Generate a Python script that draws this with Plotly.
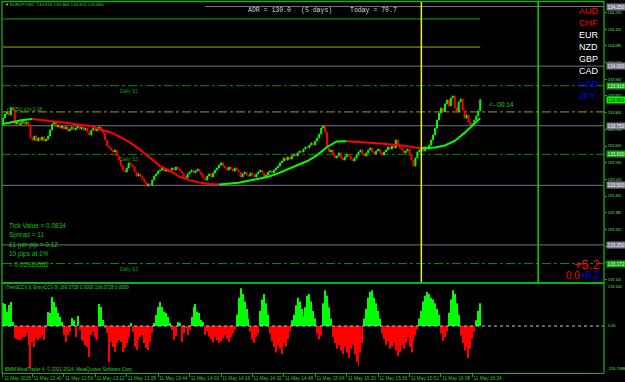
import plotly.graph_objects as go
import pandas as pd

# ---------------- data ----------------
first_bar = "2015-05-11 12:25"
first_open = 133.753
closes = [
    133.782, 133.799, 133.808, 133.795, 133.824, 133.816, 133.757, 133.766, 133.753, 133.761,
    133.770, 133.757, 133.766, 133.753, 133.699, 133.690, 133.707, 133.686, 133.699, 133.690,
    133.703, 133.686, 133.694, 133.707, 133.732, 133.757, 133.766, 133.745, 133.753, 133.740,
    133.749, 133.736, 133.745, 133.728, 133.736, 133.745, 133.732, 133.740, 133.749, 133.736,
    133.745, 133.732, 133.740, 133.724, 133.711, 133.732, 133.740, 133.728, 133.736, 133.745,
    133.732, 133.719, 133.690, 133.665, 133.657, 133.648, 133.640, 133.648, 133.623, 133.606,
    133.581, 133.564, 133.556, 133.573, 133.594, 133.585, 133.577, 133.556, 133.539, 133.548,
    133.539, 133.526, 133.514, 133.497, 133.506, 133.501, 133.522, 133.539, 133.548, 133.560,
    133.564, 133.573, 133.560, 133.568, 133.556, 133.564, 133.573, 133.564, 133.577, 133.568,
    133.560, 133.552, 133.539, 133.531, 133.548, 133.556, 133.564, 133.552, 133.560, 133.568,
    133.556, 133.543, 133.531, 133.522, 133.539, 133.548, 133.535, 133.552, 133.564, 133.573,
    133.585, 133.594, 133.581, 133.573, 133.564, 133.577, 133.568, 133.560, 133.573, 133.564,
    133.556, 133.535, 133.548, 133.556, 133.543, 133.539, 133.552, 133.543, 133.535, 133.548,
    133.556, 133.564, 133.552, 133.535, 133.543, 133.556, 133.560, 133.552, 133.564, 133.573,
    133.581, 133.594, 133.602, 133.615, 133.606, 133.619, 133.610, 133.623, 133.631, 133.623,
    133.636, 133.644, 133.640, 133.652, 133.661, 133.657, 133.669, 133.678, 133.669, 133.686,
    133.699, 133.715, 133.740, 133.749, 133.724, 133.657, 133.640, 133.648, 133.627, 133.615,
    133.623, 133.636, 133.615, 133.606, 133.619, 133.631, 133.623, 133.610, 133.602, 133.615,
    133.627, 133.640, 133.648, 133.631, 133.623, 133.636, 133.648, 133.657, 133.640, 133.631,
    133.644, 133.652, 133.636, 133.627, 133.640, 133.648, 133.661, 133.652, 133.665, 133.657,
    133.690, 133.669, 133.657, 133.648, 133.636, 133.644, 133.652, 133.627, 133.606, 133.581,
    133.615, 133.640, 133.648, 133.657, 133.644, 133.661, 133.652, 133.669, 133.690, 133.711,
    133.740, 133.774, 133.803, 133.824, 133.808, 133.841, 133.858, 133.833, 133.866, 133.875,
    133.824, 133.808, 133.850, 133.862, 133.816, 133.782, 133.795, 133.766, 133.749, 133.757,
    133.774, 133.791, 133.812, 133.860,
]

# moving average readings (bar index, value)
ma_idx = [0, 5, 10, 15, 20, 25, 30, 35, 40, 45, 50, 55, 60, 65, 70, 75, 80, 85, 90, 95,
          100, 105, 110, 115, 120, 125, 130, 135, 140, 145, 150, 155, 160, 165, 170, 175,
          180, 185, 190, 195, 200, 205, 210, 213, 216, 220, 225, 230, 235, 240, 243]
ma_vals = [133.757, 133.766, 133.774, 133.778, 133.774, 133.768, 133.764, 133.759, 133.753, 133.749,
           133.732, 133.722, 133.701, 133.678, 133.648, 133.615, 133.581, 133.561, 133.536, 133.522,
           133.512, 133.506, 133.504, 133.506, 133.511, 133.519, 133.527, 133.536, 133.550, 133.567,
           133.583, 133.602, 133.627, 133.661, 133.684, 133.685,
           133.683, 133.680, 133.677, 133.673, 133.670, 133.665, 133.659, 133.656, 133.657, 133.659,
           133.667, 133.686, 133.720, 133.761, 133.782]

# CCI histogram (lower window)
cci = [
    122, 117, 74, 111, 127, 21,
    -64, -70, -74, -72, -60, -58,
    -37, -100, -222, -85, -111, -64, -74, -64, -48, -74,
    -10,
    74, 69, 154, 127, 101, 69, 48, 21,
    -48, -85, -48, -32,
    42, 30, -58, 53,
    -20,
    -74, -85, -100, -111, -164, -48, -32, -58, -74,
    117, 101, 32,
    -11, -37, -191, -85, -111, -138, -90, -74, -85, -138, -117, -90, -58, 16,
    -32, -111, -127, -74, -58, -48, -90, -117, -127, -85, -37,
    16, 58, 101, 127, 101, 74, 69, 48, 16,
    -21, -74, -53, 21, 16, -85, -40, -11, -48,
    -20, 48, 101, 117, 74, 69, 32, 21, -48,
    -30, -55, -70, -85, -60, -75, -90, -80, -65, -50, -70, -85, -60, -40, -20,
    60, 150, 200, 170, 130, 90,
    40,
    -30, -70, -90, -60, -40,
    80, 140, 170, 120, 60,
    -40, -80, -110, -140, -100, -120, -150, -90, -110, -70, -30,
    30, 60,
    110, 150, 130, 90,
    50,
    100, 160, 170, 130, 80,
    40,
    -40, -70, -50,
    120, 190, 160, 100,
    40,
    -60, -90, -120, -100, -130, -150, -110, -140, -170, -120, -100, -150, -190, -210, -140, -90,
    40, 90, 150, 180, 190, 150, 120, 80, 40,
    -40, -70, -100, -80, -120, -110, -90, -130, -160, -140, -100, -120, -90, -60, -110, -140,
    -80, -50, -20,
    40, 80, 130, 160, 180, 170, 150, 140, 120, 90, 60,
    -40, -80, -60, -30,
    70, 140, 190, 170, 120, 60,
    -50, -90, -130, -110, -170, -120, -70, -30,
    30, 80, 120,
]

price_ticks = [134.225, 134.155, 134.085, 134.015, 133.945, 133.875, 133.805, 133.735,
               133.665, 133.595, 133.525, 133.455, 133.385, 133.315, 133.245, 133.175, 133.105]
round_levels = [134.000, 133.750, 133.500, 133.250]
top_level = 134.250
pivot_levels = [133.918, 133.630, 133.172]
pivot_names = ["Daily S1", "Daily S2", "Daily S3"]
open_level = 133.808
adr_high = 134.198
adr_low = 134.080
bid = 133.860

time_ticks = ["2015-05-11 12:25", "2015-05-11 12:40", "2015-05-11 12:56", "2015-05-11 13:12",
              "2015-05-11 13:28", "2015-05-11 13:44", "2015-05-11 14:00", "2015-05-11 14:16",
              "2015-05-11 14:32", "2015-05-11 14:48", "2015-05-11 15:04", "2015-05-11 15:20",
              "2015-05-11 15:36", "2015-05-11 15:52", "2015-05-11 16:08", "2015-05-11 16:24"]
time_labels = ["11 May 2015", "11 May 12:40", "11 May 12:56", "11 May 13:12", "11 May 13:28",
               "11 May 13:44", "11 May 14:00", "11 May 14:16", "11 May 14:32", "11 May 14:48",
               "11 May 15:04", "11 May 15:20", "11 May 15:36", "11 May 15:52", "11 May 16:08",
               "11 May 16:24"]
currencies = ["AUD", "CHF", "EUR", "NZD", "GBP", "CAD", "USD", "JPY"]
currency_colors = ["#ff0000", "#ff0000", "#ffffff", "#ffffff", "#ffffff", "#ffffff", "#0000ff", "#0000ff"]
info_lines = ["Tick Value = 0.0834", "Spread = 11", "£1 per pip = 0.12", "10 pips at 1%", "= 0.02939562"]

# ---------------- layout helpers ----------------
W, H = 625, 382
def px(x):
    return x / W
def py(y):
    return 1 - y / H

times = pd.date_range(first_bar, periods=len(closes), freq="min")
opens = [first_open] + closes[:-1]
highs = [max(o, c) for o, c in zip(opens, closes)]
lows = [min(o, c) for o, c in zip(opens, closes)]

GREEN = "#00ff00"
RED = "#ff0000"
FRAME = "#12b012"

fig = go.Figure()

fig.add_trace(go.Candlestick(
    x=times, open=opens, high=highs, low=lows, close=closes,
    increasing=dict(line=dict(color=GREEN, width=1), fillcolor=GREEN),
    decreasing=dict(line=dict(color=RED, width=1), fillcolor=RED),
    whiskerwidth=0, xaxis="x", yaxis="y", showlegend=False, hoverinfo="skip"))

# MA coloured by slope
runs = []
cur = [0]
cur_col = None
for k in range(1, len(ma_idx)):
    col = GREEN if ma_vals[k] >= ma_vals[k - 1] else RED
    if cur_col is None or col == cur_col:
        cur.append(k)
        cur_col = col
    else:
        runs.append((cur, cur_col))
        cur = [k - 1, k]
        cur_col = col
runs.append((cur, cur_col))
for pts, col in runs:
    fig.add_trace(go.Scatter(
        x=[times[ma_idx[k]] for k in pts], y=[ma_vals[k] for k in pts],
        mode="lines", line=dict(color=col, width=2), xaxis="x", yaxis="y",
        showlegend=False, hoverinfo="skip"))

fig.add_trace(go.Bar(
    x=times, y=cci, width=60000 * 0.5,
    marker=dict(color=[GREEN if v > 0 else RED for v in cci], line=dict(width=0)),
    xaxis="x", yaxis="y2", showlegend=False, hoverinfo="skip"))

main_dom = [py(282), py(1)]
sub_dom = [py(373), py(284)]
x0p, x1p = px(2), px(604)

shapes = []
def hline(y, color, dash="solid", x0=x0p, x1=x1p, xref="paper", width=1):
    shapes.append(dict(type="line", xref=xref, yref="y", x0=x0, x1=x1, y0=y, y1=y,
                       line=dict(color=color, width=width, dash=dash), layer="below"))

GRAY = "#74748a"
hline(top_level, GRAY, x0="2015-05-11 14:08", x1="2015-05-11 17:31", xref="x")
for lv in round_levels:
    hline(lv, GRAY)
for lv in pivot_levels:
    hline(lv, "#0b8a0b", dash="dashdot")
hline(open_level, "#a89c00", dash="dashdot")
hline(adr_high, "#00b000", x0=times[0], x1=times[-1], xref="x")
hline(adr_low, "#a8a800", x0=times[0], x1=times[-1], xref="x")

# vertical lines
for t, col in [("2015-05-11 15:58", "#f0f000"), ("2015-05-11 16:57:30", "#00e000")]:
    shapes.append(dict(type="line", xref="x", yref="paper", x0=t, x1=t,
                       y0=main_dom[0], y1=main_dom[1], line=dict(color=col, width=1.5)))

# zero line lower window
shapes.append(dict(type="line", xref="paper", yref="y2", x0=x0p, x1=x1p, y0=0, y1=0,
                   line=dict(color="#c8c8c8", width=1, dash="dot")))

# frame
for (a, b, c, d, w) in [(x0p, py(1.5), x1p, py(1.5), 1.3),
                        (x0p, py(1), x0p, py(373), 1.3),
                        (x1p, py(1), x1p, py(373), 1.3),
                        (x0p, py(283), x1p, py(283), 2.2)]:
    shapes.append(dict(type="line", xref="paper", yref="paper", x0=a, y0=b, x1=c, y1=d,
                       line=dict(color=FRAME, width=w)))

ann = []
def text(x, y, s, size, color, font="Liberation Sans", xanchor="left", yref="paper", **kw):
    ann.append(dict(x=px(x), y=(py(y) if yref == "paper" else y), xref="paper", yref=yref,
                    text=s, showarrow=False, xanchor=xanchor, yanchor="middle",
                    font=dict(size=size, color=color, family=font), **kw))

text(3, 5, "▼", 4, "#d0d0d0")
text(8, 5, "EURJPY,M1  133.816 133.866 133.815 133.860", 4.4, "#40d040")
text(246, 11, "ADR = 130.0", 6.5, "#d8d8d8", font="Liberation Mono")
text(298.7, 11, "(5 days)", 6.5, "#d8d8d8", font="Liberation Mono")
text(348.3, 11, "Today = 70.7", 6.5, "#d8d8d8", font="Liberation Mono")
for k, (c, col) in enumerate(zip(currencies, currency_colors)):
    text(577, 11 + 12.1 * k, c, 9, col)
for lv, name in zip(pivot_levels, pivot_names):
    ann.append(dict(x=px(118), y=lv, xref="paper", yref="y", text=name, showarrow=False,
                    xanchor="left", yanchor="top", yshift=-1,
                    font=dict(size=4.8, color="#18a018", family="Liberation Sans")))
text(5, 109, "▪TP(51) d.rv 0.18", 4.6, "#20c020")
text(487, 104, "<--00:14", 6.5, "#20d020")
for k, s in enumerate(info_lines):
    text(7, 225 + 9.8 * k, s, 6.5, "#10c010")
text(602, 264.5, "+5.2", 13, "#ff0000", xanchor="right")
text(602, 275, '<span style="color:#ff0000">0.0</span><span style="color:#0000ff">+0.2</span>',
     10, "#ff0000", xanchor="right")
text(3, 287, "(TrendCCI) 8, EntryCCI) 8) 169.3728 0.0000 169.3728 0.0000", 4.5, "#30d030")
text(3, 369, "BMM MetaTrader 4, © 2001-2014, MetaQuotes Software Corp.", 4.6, "#30d030")
text(606, 287, "218.204", 3.8, "#60e060")
text(606, 326, "0.00", 3.8, "#60e060")
text(606, 369, "-291.7088", 3.8, "#60e060")

# boxed price labels
def box(level, bg, fg):
    ann.append(dict(x=px(605.5), y=level, xref="paper", yref="y", text=f"{level:.3f}",
                    showarrow=False, xanchor="left", yanchor="middle", bgcolor=bg, borderpad=0.6,
                    font=dict(size=4.6, color=fg, family="Liberation Sans")))
box(top_level, "#7c7c8e", "#f0f0f0")
for lv in round_levels:
    box(lv, "#7c7c8e", "#f0f0f0")
for lv in pivot_levels:
    box(lv, "#14a014", "#e8ffe8")
box(bid, "#00ff00", "#000000")

fig.update_layout(
    width=W, height=H, margin=dict(l=0, r=0, t=0, b=0, autoexpand=False),
    paper_bgcolor="#000000", plot_bgcolor="#000000",
    barmode="overlay", showlegend=False,
    shapes=shapes, annotations=ann,
    xaxis=dict(type="date", domain=[x0p, x1p], anchor="y2", automargin=False,
               range=["2015-05-11 12:24:30", "2015-05-11 17:31:00"],
               tickvals=time_ticks, ticktext=time_labels, ticklabelposition="outside right",
               tickangle=0,
               tickfont=dict(size=4.7, color="#20d020", family="Liberation Sans"),
               ticks="outside", ticklen=3, tickcolor=FRAME,
               showline=True, linecolor=FRAME, linewidth=1.3, showgrid=False, zeroline=False,
               rangeslider=dict(visible=False), fixedrange=True),
    yaxis=dict(domain=main_dom, range=[133.0946, 134.2732], side="right", anchor="x",
               automargin=False,
               tickvals=price_ticks, ticktext=[f"{v:.3f}" for v in price_ticks],
               tickfont=dict(size=3.8, color="#60e060", family="Liberation Sans"),
               ticks="outside", ticklen=2, tickcolor=FRAME,
               showgrid=False, zeroline=False, showline=False),
    yaxis2=dict(domain=sub_dom, range=[-249, 222.6], side="right", anchor="x", automargin=False,
                showticklabels=False, ticks="", showgrid=False, zeroline=False, showline=False),
)

fig.write_html("out.html")
